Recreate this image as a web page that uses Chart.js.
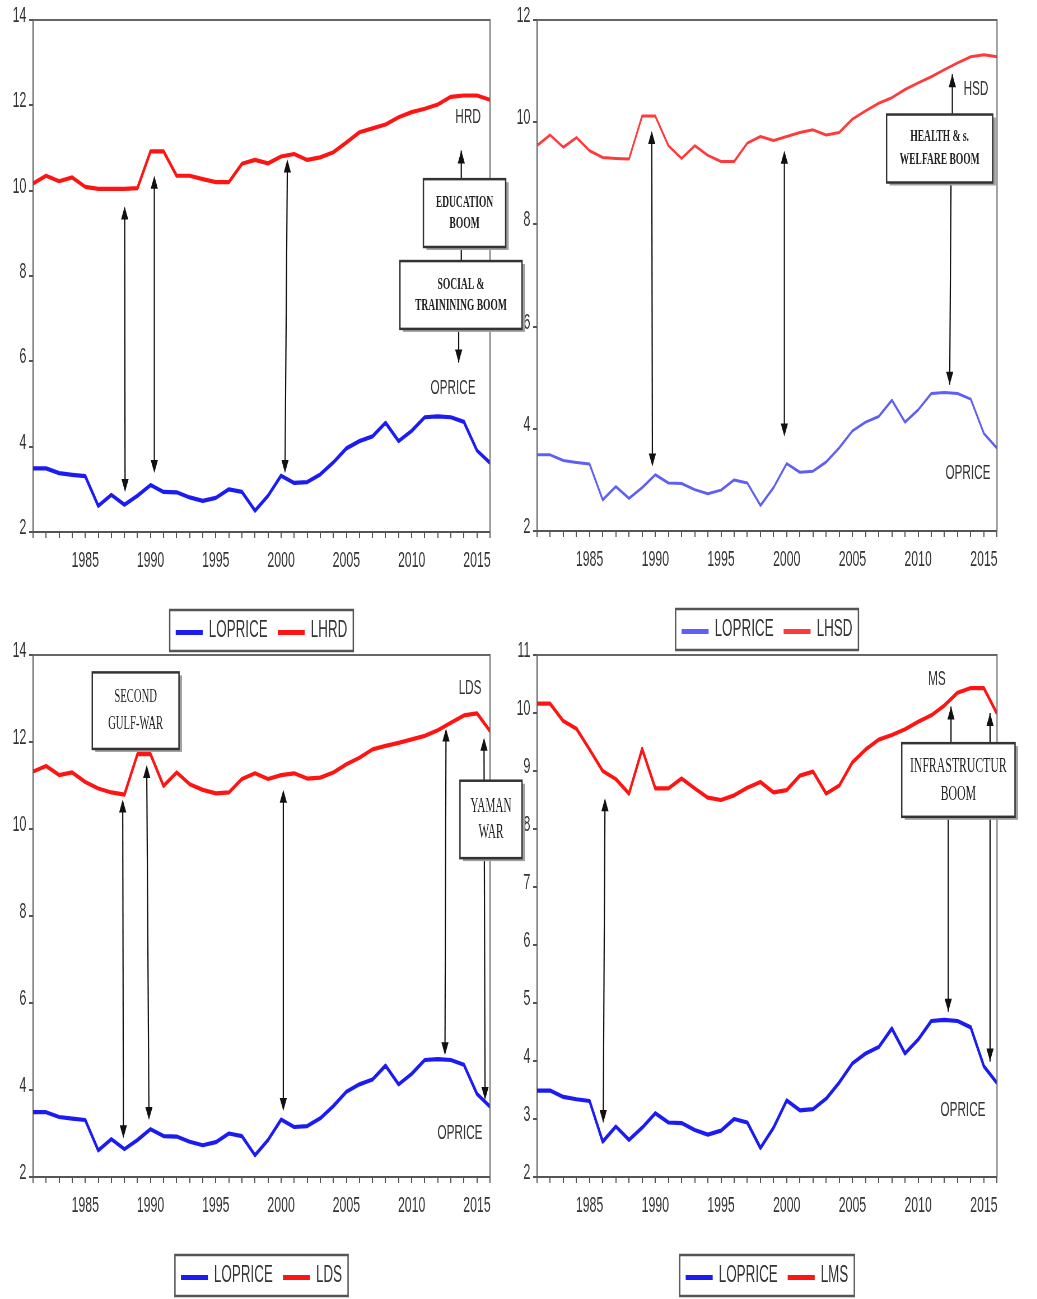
<!DOCTYPE html>
<html>
<head>
<meta charset="utf-8">
<script src="https://cdn.jsdelivr.net/npm/chart.js@4.4.1/dist/chart.umd.min.js"></script>
<style>
    html, body { margin: 0; padding: 0; background: #ffffff; }
    body { width: 1037px; height: 1299px; position: relative; overflow: hidden; }
    .panel { position: absolute; transform-origin: 0 0; }
    .panel canvas { display: block; }
</style>
</head>
<body>
<div class="panel" id="p2"><canvas id="c2"></canvas></div>
<div class="panel" id="p4"><canvas id="c4"></canvas></div>
<div class="panel" id="p1"><canvas id="c1"></canvas></div>
<div class="panel" id="p3"><canvas id="c3"></canvas></div>
<script>
// ---- data ----
const years = [1981, 1982, 1983, 1984, 1985, 1986, 1987, 1988, 1989, 1990,
               1991, 1992, 1993, 1994, 1995, 1996, 1997, 1998, 1999, 2000,
               2001, 2002, 2003, 2004, 2005, 2006, 2007, 2008, 2009, 2010,
               2011, 2012, 2013, 2014, 2015, 2016];

const loprice = [3.49, 3.49, 3.38, 3.34, 3.31, 2.61, 2.87, 2.64, 2.85, 3.10,
                 2.94, 2.93, 2.81, 2.73, 2.80, 3.00, 2.94, 2.50, 2.85, 3.32,
                 3.15, 3.17, 3.35, 3.63, 3.96, 4.13, 4.24, 4.56, 4.13, 4.37,
                 4.69, 4.71, 4.69, 4.58, 3.91, 3.62];

const lhrd = [10.17, 10.35, 10.22, 10.31, 10.09, 10.04, 10.04, 10.04, 10.06, 10.92,
              10.92, 10.35, 10.35, 10.27, 10.20, 10.20, 10.63, 10.72, 10.64, 10.80,
              10.86, 10.72, 10.78, 10.90, 11.13, 11.37, 11.46, 11.55, 11.72, 11.84,
              11.92, 12.02, 12.20, 12.23, 12.23, 12.13];

const lhsd = [9.54, 9.75, 9.51, 9.70, 9.44, 9.31, 9.29, 9.28, 10.12, 10.12,
              9.54, 9.29, 9.54, 9.35, 9.23, 9.23, 9.59, 9.72, 9.64, 9.72,
              9.80, 9.85, 9.75, 9.80, 10.06, 10.22, 10.37, 10.48, 10.64, 10.77,
              10.89, 11.03, 11.16, 11.28, 11.32, 11.28];

const lds = [11.32, 11.45, 11.24, 11.30, 11.08, 10.93, 10.84, 10.79, 11.72, 11.72,
             10.99, 11.30, 11.03, 10.90, 10.82, 10.84, 11.15, 11.28, 11.15, 11.24,
             11.28, 11.16, 11.18, 11.30, 11.49, 11.64, 11.83, 11.91, 11.98, 12.06,
             12.14, 12.27, 12.44, 12.61, 12.66, 12.25];

const lms = [10.16, 10.16, 9.86, 9.73, 9.37, 9.00, 8.86, 8.61, 9.38, 8.70,
             8.70, 8.87, 8.70, 8.54, 8.50, 8.58, 8.71, 8.81, 8.63, 8.67,
             8.92, 8.99, 8.61, 8.75, 9.15, 9.37, 9.54, 9.62, 9.72, 9.85,
             9.96, 10.13, 10.35, 10.43, 10.43, 9.99];

const yearTicks = [1985, 1990, 1995, 2000, 2005, 2010, 2015];

// ---- annotations, placed in data units (year, value) ----
const hrdNotes = {
    arrows: [
        { x: 1988.02, x2: 1988.05, top: 9.63, bottom: 2.94 },
        { x: 1990.29, top: 10.35, bottom: 3.38 },
        { x: 2000.48, x2: 2000.30, top: 10.73, bottom: 3.38 }
    ],
    stems: [
        { x: 2013.8, from: 10.27, to: 10.94, head: true },
        { x: 2013.8, from: 8.68, to: 8.35, head: false },
        { x: 2013.6, from: 6.76, to: 5.97, head: true }
    ],
    boxes: [
        { x0: 2010.9, x1: 2017.2, top: 10.27, bottom: 8.68, lines: ["EDUCATION", "BOOM"], bold: true, size: 17, lh: 21 },
        { x0: 2009.1, x1: 2018.45, top: 8.35, bottom: 6.76, lines: ["SOCIAL &", "TRAININING BOOM"], bold: true, size: 17, lh: 21 }
    ],
    labels: [
        { x: 2014.32, y: 11.73, text: "HRD" },
        { x: 2013.17, y: 5.37, text: "OPRICE" }
    ]
};

const hsdNotes = {
    arrows: [
        { x: 1989.73, x2: 1989.78, top: 9.83, bottom: 3.26 },
        { x: 1999.82, top: 9.44, bottom: 3.85 }
    ],
    stems: [
        { x: 2012.6, from: 10.15, to: 10.94, head: true },
        { x: 2012.5, x2: 2012.4, from: 8.82, to: 4.86, head: true }
    ],
    boxes: [
        { x0: 2007.6, x1: 2015.67, top: 10.15, bottom: 8.82, lines: ["HEALTH & s.", "WELFARE BOOM"], bold: true, size: 17, lh: 23 }
    ],
    labels: [
        { x: 2014.4, y: 10.65, text: "HSD" },
        { x: 2013.79, y: 3.14, text: "OPRICE" }
    ]
};

const ldsNotes = {
    arrows: [
        { x: 1987.87, x2: 1987.92, top: 10.68, bottom: 2.89 },
        { x: 1989.71, x2: 1989.88, top: 11.47, bottom: 3.31 },
        { x: 2000.17, top: 10.90, bottom: 3.52 },
        { x: 2012.63, x2: 2012.55, top: 12.31, bottom: 4.80 },
        { x: 2015.54, x2: 2015.62, top: 12.10, bottom: 3.77 }
    ],
    stems: [],
    boxes: [
        { x0: 1985.54, x1: 1992.18, top: 13.6, bottom: 11.84, lines: ["SECOND", "GULF-WAR"], bold: false, size: 19, lh: 27 },
        { x0: 2013.7, x1: 2018.45, top: 11.11, bottom: 9.33, lines: ["YAMAN", "WAR"], bold: false, size: 20, lh: 26 }
    ],
    labels: [
        { x: 2014.47, y: 13.24, text: "LDS" },
        { x: 2013.7, y: 3.01, text: "OPRICE" }
    ]
};

const lmsNotes = {
    arrows: [
        { x: 1986.17, x2: 1986.04, top: 8.53, bottom: 2.93 }
    ],
    stems: [
        { x: 2012.5, from: 9.48, to: 10.11, head: true },
        { x: 2015.47, from: 9.48, to: 10.0, head: true },
        { x: 2012.29, from: 8.21, to: 4.85, head: true },
        { x: 2015.47, from: 8.21, to: 3.99, head: true }
    ],
    boxes: [
        { x0: 2008.75, x1: 2017.37, top: 9.48, bottom: 8.21, lines: ["INFRASTRUCTUR", "BOOM"], bold: false, size: 21, lh: 28 }
    ],
    labels: [
        { x: 2011.43, y: 10.59, text: "MS" },
        { x: 2013.41, y: 3.16, text: "OPRICE" }
    ]
};

// the original picture is squeezed sideways, so each canvas is drawn wide and squeezed with css
const SQUEEZE = 0.56;
const SANS = "'Liberation Sans', Arial, sans-serif";
const SERIF = "'Liberation Serif', 'Times New Roman', serif";
const AXIS_H = 50;

const panels = [
    { id: "1", name: "LHRD", series: lhrd, yMin: 2, yMax: 14, yStep: 2,
      page: { left: 0, top: 0, width: 530, height: 655 }, area: { l: 33, t: 20, r: 490, b: 532 },
      blue: "#1c1cf2", red: "#ff1414", lineWidth: 4.2, notes: hrdNotes },
    { id: "2", name: "LHSD", series: lhsd, yMin: 2, yMax: 12, yStep: 2,
      page: { left: 504, top: 0, width: 533, height: 655 }, area: { l: 537, t: 20, r: 997, b: 531 },
      blue: "#5f5ff4", red: "#ff3a3a", lineWidth: 3, notes: hsdNotes },
    { id: "3", name: "LDS", series: lds, yMin: 2, yMax: 14, yStep: 2,
      page: { left: 0, top: 635, width: 530, height: 664 }, area: { l: 33, t: 655, r: 490, b: 1177 },
      blue: "#1c1cf2", red: "#ff1414", lineWidth: 4.2, notes: ldsNotes },
    { id: "4", name: "LMS", series: lms, yMin: 2, yMax: 11, yStep: 1,
      page: { left: 504, top: 635, width: 533, height: 664 }, area: { l: 537, t: 655, r: 997, b: 1177 },
      blue: "#1c1cf2", red: "#ff1414", lineWidth: 4.2, notes: lmsNotes }
];

function toPoints(values)
{
    return years.map((yr, i) => ({ x: yr, y: values[i] }));
}

function arrowHead(ctx, x, y, up)
{
    const hw = 3.6 / SQUEEZE, len = 13;
    const d = up ? 1 : -1;
    ctx.beginPath();
    ctx.moveTo(x, y);
    ctx.lineTo(x - hw, y + d * len);
    ctx.lineTo(x + hw, y + d * len);
    ctx.closePath();
    ctx.fill();
}

function drawLegend(chart, ctx)
{
    const a = chart.chartArea;
    const cx = (a.left + a.right) / 2;
    const top = a.bottom + 78, h = 41;
    const pad = 6 / SQUEEZE, lineLen = 27 / SQUEEZE, gap = 6 / SQUEEZE, itemGap = 10 / SQUEEZE;

    ctx.font = "24px " + SANS;
    const items = chart.data.datasets.map(d => ({
        label: d.label, color: d.borderColor, w: ctx.measureText(d.label).width
    }));
    let total = pad * 2;
    items.forEach((it, i) => { total += lineLen + gap + it.w + (i ? itemGap : 0); });

    let x = cx - total / 2;
    ctx.strokeStyle = "#555";
    ctx.lineWidth = 2.5;
    ctx.strokeRect(x, top, total, h);

    x += pad;
    items.forEach((it, i) => {
        if (i) x += itemGap;
        ctx.strokeStyle = it.color;
        ctx.lineWidth = 5;
        ctx.beginPath();
        ctx.moveTo(x, top + h / 2 + 2);
        ctx.lineTo(x + lineLen, top + h / 2 + 2);
        ctx.stroke();
        x += lineLen + gap;
        ctx.fillStyle = "#333";
        ctx.textAlign = "left";
        ctx.textBaseline = "middle";
        ctx.fillText(it.label, x, top + h / 2);
        x += it.w;
    });
}

function decorPlugin(notes)
{
    return {
        id: "decor",
        afterDraw(chart) {
            const ctx = chart.ctx;
            const a = chart.chartArea;
            const X = v => chart.scales.x.getPixelForValue(v);
            const Y = v => chart.scales.y.getPixelForValue(v);

            ctx.save();

            // top and right side of the frame
            ctx.strokeStyle = "#666";
            ctx.lineWidth = 2;
            ctx.beginPath();
            ctx.moveTo(a.left, a.top);
            ctx.lineTo(a.right, a.top);
            ctx.lineTo(a.right, a.bottom);
            ctx.stroke();

            ctx.strokeStyle = "#111";
            ctx.fillStyle = "#111";
            ctx.lineWidth = 2.2;

            // double headed arrows between the two series
            notes.arrows.forEach(ar => {
                const xt = X(ar.x), xb = X(ar.x2 !== undefined ? ar.x2 : ar.x);
                const yt = Y(ar.top), yb = Y(ar.bottom);
                ctx.beginPath();
                ctx.moveTo(xt, yt + 4);
                ctx.lineTo(xb, yb - 4);
                ctx.stroke();
                arrowHead(ctx, xt, yt, true);
                arrowHead(ctx, xb, yb, false);
            });

            // stems coming out of the boxes
            notes.stems.forEach(st => {
                const x1 = X(st.x), x2 = X(st.x2 !== undefined ? st.x2 : st.x);
                const y1 = Y(st.from), y2 = Y(st.to);
                ctx.beginPath();
                ctx.moveTo(x1, y1);
                ctx.lineTo(x2, y2);
                ctx.stroke();
                if (st.head) arrowHead(ctx, x2, y2, st.to > st.from);
            });

            // boxes
            notes.boxes.forEach(b => {
                const x0 = X(b.x0), x1 = X(b.x1), y0 = Y(b.top), y1 = Y(b.bottom);
                ctx.fillStyle = "#a0a0a0";
                ctx.fillRect(x0 + 3 / SQUEEZE, y0 + 3, x1 - x0, y1 - y0);
                ctx.fillStyle = "#ffffff";
                ctx.fillRect(x0, y0, x1 - x0, y1 - y0);
                ctx.strokeStyle = "#333";
                ctx.lineWidth = 2.5;
                ctx.strokeRect(x0, y0, x1 - x0, y1 - y0);

                ctx.fillStyle = "#222";
                ctx.font = (b.bold ? "bold " : "") + b.size + "px " + SERIF;
                ctx.textAlign = "center";
                ctx.textBaseline = "middle";
                const cx = (x0 + x1) / 2, cy = (y0 + y1) / 2;
                b.lines.forEach((t, i) => {
                    ctx.fillText(t, cx, cy + (i - (b.lines.length - 1) / 2) * b.lh);
                });
            });

            // series names
            ctx.fillStyle = "#333";
            ctx.font = "21px " + SANS;
            ctx.textAlign = "center";
            ctx.textBaseline = "middle";
            notes.labels.forEach(l => ctx.fillText(l.text, X(l.x), Y(l.y)));

            drawLegend(chart, ctx);
            ctx.restore();
        }
    };
}

function createPanel(p)
{
    const W = Math.round(p.page.width / SQUEEZE);
    const H = p.page.height;
    const yWidth = (p.area.l - p.page.left) / SQUEEZE;
    const padRight = W - (p.area.r - p.page.left) / SQUEEZE;
    const padTop = p.area.t - p.page.top;
    const padBottom = H - (p.area.b - p.page.top) - AXIS_H;

    const holder = document.getElementById("p" + p.id);
    holder.style.left = p.page.left + "px";
    holder.style.top = p.page.top + "px";
    holder.style.width = W + "px";
    holder.style.height = H + "px";
    holder.style.transform = "scaleX(" + SQUEEZE + ")";

    const canvas = document.getElementById("c" + p.id);
    canvas.width = W;
    canvas.height = H;

    return new Chart(canvas, {
        type: "line",
        data: {
            datasets: [
                { label: "LOPRICE", data: toPoints(loprice), borderColor: p.blue, borderWidth: p.lineWidth,
                  pointRadius: 0, tension: 0, borderJoinStyle: "round" },
                { label: p.name, data: toPoints(p.series), borderColor: p.red, borderWidth: p.lineWidth,
                  pointRadius: 0, tension: 0, borderJoinStyle: "round" }
            ]
        },
        options: {
            responsive: false,
            animation: false,
            devicePixelRatio: 1,
            layout: { padding: { top: padTop, right: padRight, bottom: padBottom, left: 0 } },
            plugins: {
                legend: { display: false },
                tooltip: { enabled: false }
            },
            scales: {
                x: {
                    type: "linear",
                    min: 1981,
                    max: 2016,
                    afterFit: s => { s.height = AXIS_H; },
                    grid: { drawOnChartArea: false, drawTicks: true, tickLength: 6, color: "#555", lineWidth: 2 },
                    border: { display: true, color: "#555", width: 2 },
                    ticks: {
                        stepSize: 1,
                        autoSkip: false,
                        maxRotation: 0,
                        padding: 10,
                        color: "#333",
                        font: { family: SANS, size: 22 },
                        callback: v => yearTicks.includes(v) ? String(v) : ""
                    }
                },
                y: {
                    min: p.yMin,
                    max: p.yMax,
                    afterFit: s => { s.width = yWidth; },
                    grid: { drawOnChartArea: false, drawTicks: true, tickLength: 7, color: "#555", lineWidth: 2 },
                    border: { display: true, color: "#555", width: 2 },
                    ticks: {
                        stepSize: p.yStep,
                        padding: 5,
                        labelOffset: -4,
                        color: "#333",
                        font: { family: SANS, size: 22 },
                        callback: v => String(v)
                    }
                }
            }
        },
        plugins: [decorPlugin(p.notes)]
    });
}

panels.forEach(createPanel);
</script>
</body>
</html>
